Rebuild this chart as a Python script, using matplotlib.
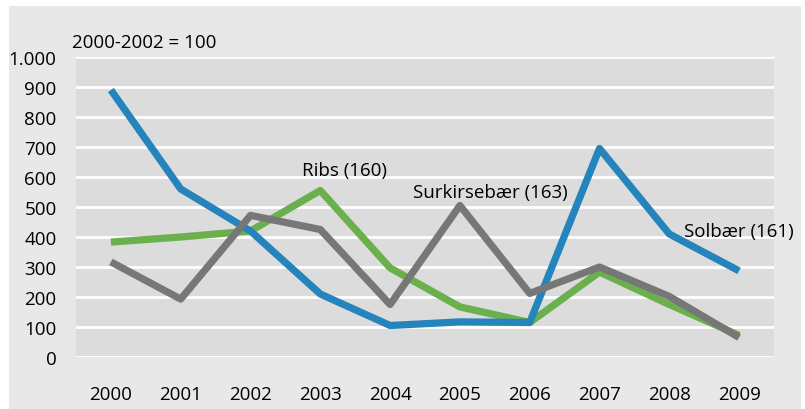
import matplotlib
matplotlib.use("Agg")
import matplotlib.pyplot as plt
from matplotlib.patches import Rectangle
from matplotlib.ticker import FuncFormatter

years = ["2000", "2001", "2002", "2003", "2004", "2005", "2006", "2007", "2008", "2009"]
solbaer = [890, 560, 420, 210, 105, 117, 115, 695, 410, 287]
ribs = [383, 400, 420, 555, 297, 167, 115, 283, 175, 72]
surkirsebaer = [317, 193, 472, 425, 175, 505, 212, 300, 202, 65]
yticks = list(range(0, 1001, 100))

plt.rcParams['font.family'] = ['Open Sans', 'DejaVu Sans']

W, H = 805, 410
fig = plt.figure(figsize=(W / 100, H / 100), dpi=100)
fig.patch.set_facecolor('white')
fig.add_artist(Rectangle((9 / W, 0), (801 - 9) / W, (410 - 7) / H,
                         transform=fig.transFigure, facecolor='#e8e8e8',
                         edgecolor='none', zorder=0))

ax = fig.add_axes([76 / W, (H - 358) / H, (774 - 76) / W, 300 / H])
ax.set_facecolor('#dcdcdc')
x = list(range(len(years)))
lw = 5.2
ax.plot(x, ribs, color='#6ab04c', lw=lw, solid_capstyle='butt', zorder=3)
ax.plot(x, solbaer, color='#2684bc', lw=lw, solid_capstyle='butt', zorder=4)
ax.plot(x, surkirsebaer, color='#777777', lw=lw, solid_capstyle='butt', zorder=5)

ax.set_xlim(-0.5, len(years) - 0.5)
ax.set_ylim(0, 1000)
ax.set_yticks(yticks)
ax.yaxis.set_major_formatter(FuncFormatter(lambda v, p: f"{int(v):,}".replace(",", ".")))
ax.set_xticks(x)
ax.set_xticklabels(years)
ax.grid(axis='y', color='white', lw=2, zorder=1)
ax.set_axisbelow(True)
for s in ax.spines.values():
    s.set_visible(False)
ax.tick_params(axis='both', length=0, labelsize=13.5, colors='black')
ax.tick_params(axis='y', pad=14)
ax.tick_params(axis='x', pad=20)

ax.text(3.35, 623, "Ribs (160)", ha='center', va='center', fontsize=13.5, zorder=6)
ax.text(5.43, 550, "Surkirsebær (163)", ha='center', va='center', fontsize=13.5, zorder=6)
ax.text(9.0, 420, "Solbær (161)", ha='center', va='center', fontsize=13.5, zorder=6)
fig.text(72 / W, (H - 43) / H, "2000-2002 = 100", ha='left', va='center', fontsize=13.5)

fig.savefig("out.png", dpi=100)
